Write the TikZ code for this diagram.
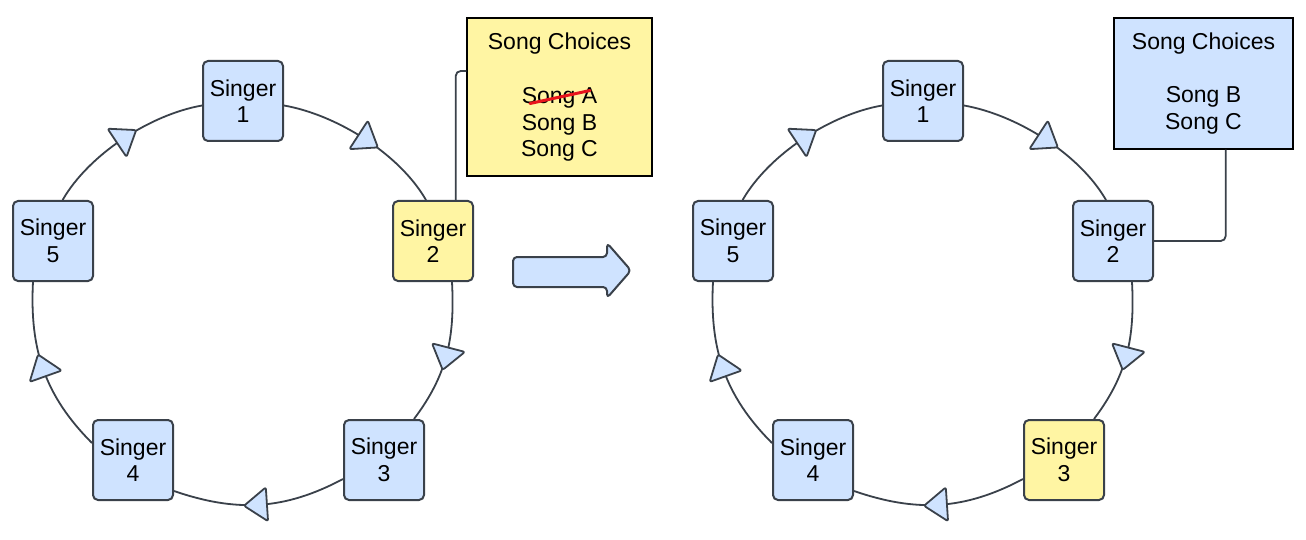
\documentclass[tikz,border=0pt]{standalone}
\usepackage{fontspec}
\setmainfont{Liberation Sans}
\usetikzlibrary{decorations.markings}
\definecolor{nodeblue}{HTML}{CFE3FF}
\definecolor{nodeyellow}{HTML}{FFF5A3}
\definecolor{edgegray}{HTML}{3A414A}
\definecolor{strikered}{HTML}{E8141C}
\tikzset{
  singer/.style={draw=edgegray, line width=2pt, rounded corners=5pt,
    minimum width=80pt, minimum height=80pt, inner sep=0pt, align=center,
    font=\fontsize{23}{26.5}\selectfont, fill=nodeblue},
  ring/.style={draw=edgegray, line width=1.8pt, postaction={decorate},
    decoration={markings, mark=at position 0.5 with {
      \draw[edgegray, fill=nodeblue, line width=1.8pt, rounded corners=2pt, line join=round]
        (-7pt,-17pt) -- (16pt,0pt) -- (-7pt,17pt) -- cycle;}}},
  songbox/.style={draw=black, line width=1.3pt, align=center, inner sep=0pt,
    font=\fontsize{23}{26.5}\selectfont},
  conn/.style={draw=edgegray, line width=1.8pt, rounded corners=5pt},
  bigarrow/.style={draw=edgegray, line width=2pt, fill=nodeblue, rounded corners=4pt, line join=round},
  strike/.style={draw=strikered, line width=3pt, line cap=round}
}
\newcommand\singerring[4]{%
\begin{scope}[xshift=#2]
\node[singer] (#1s1) at (243,-101) {Singer\\1};
\node[singer, fill=#3] (#1s2) at (433,-241) {Singer\\2};
\node[singer, fill=#4] (#1s3) at (384,-460) {Singer\\3};
\node[singer] (#1s4) at (133,-460) {Singer\\4};
\node[singer] (#1s5) at (53,-241) {Singer\\5};
\draw[ring] ([yshift=-4.5pt]#1s1.east) to[out=-10,in=120,looseness=0.8] ([xshift=-7pt]#1s2.north);
\draw[ring] ([xshift=19pt]#1s2.south) to[out=-87,in=53] ([xshift=30pt]#1s3.north);
\draw[ring] ([yshift=-19pt]#1s3.west) to[out=-152,in=-19] ([yshift=-31pt]#1s4.east);
\draw[ring] ([yshift=17pt]#1s4.west) to[out=135,in=-93] ([xshift=-20pt]#1s5.south);
\draw[ring] ([xshift=9.6pt]#1s5.north) to[out=60,in=190,looseness=0.8] ([yshift=-4.5pt]#1s1.west);
\end{scope}}
\begin{document}
\begin{tikzpicture}[x=1pt,y=1pt]
\fill[white] (0,0) rectangle (1306,-540);
\useasboundingbox (0,0) rectangle (1306,-540);
% left state
\singerring{L}{0pt}{nodeyellow}{nodeblue}
\node[songbox, fill=nodeyellow, minimum width=185pt, minimum height=158pt] (songL) at (559.5,-97)
  {Song Choices\\[28pt]Song A\\Song B\\Song C};
\draw[strike] ([shift={(-29.5pt,-6.5pt)}]songL.center) -- ([shift={(30.5pt,6.5pt)}]songL.center);
\draw[conn] ([xshift=22.7pt]Ls2.north) |- ([yshift=26pt]songL.west);
% transition arrow
\draw[bigarrow] (513,-257) -- (607,-257) -- (607,-243) -- (631,-270.5) -- (607,-298) -- (607,-287) -- (513,-287) -- cycle;
% right state
\singerring{R}{680pt}{nodeblue}{nodeyellow}
\node[songbox, fill=nodeblue, minimum width=179pt, minimum height=131pt] (songR) at (1203.5,-83.5)
  {Song Choices\\[27pt]Song B\\Song C};
\draw[conn] ([xshift=22.2pt]songR.south) |- (Rs2.east);
\end{tikzpicture}
\end{document}
